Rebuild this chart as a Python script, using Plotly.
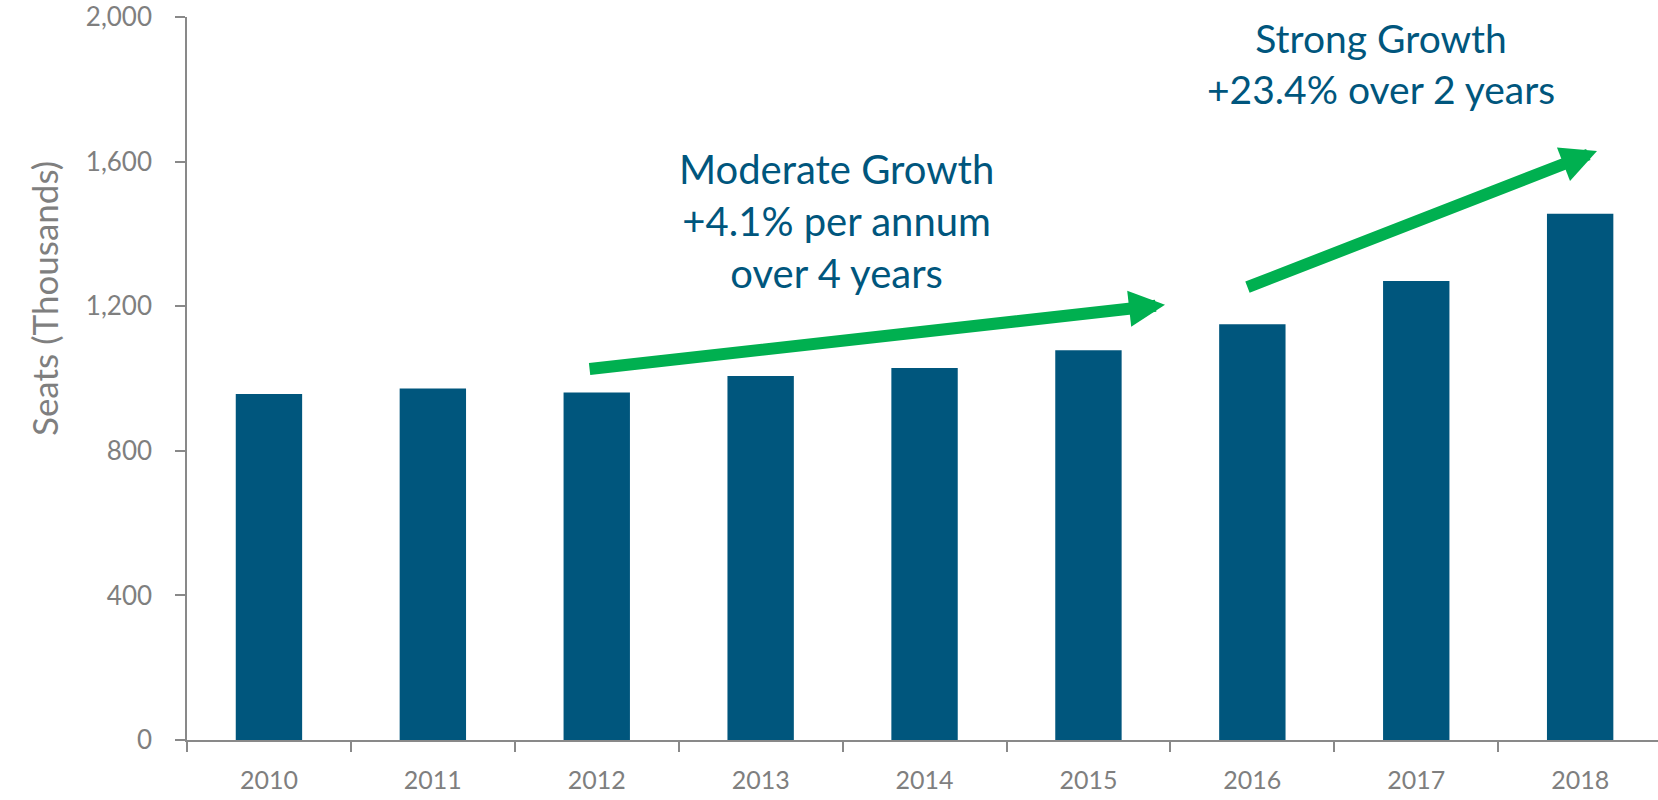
import plotly.graph_objects as go

years = ["2010", "2011", "2012", "2013", "2014", "2015", "2016", "2017", "2018"]
seats = [957, 972, 961, 1007, 1029, 1078, 1150, 1270, 1456]
y_ticks = [0, 400, 800, 1200, 1600, 2000]

BLUE = "#00567d"
GREEN = "#00b050"
GRAY = "#898989"
LABEL = "#7f7f7f"
FONT = "Lato"

fig = go.Figure()
fig.add_trace(go.Bar(x=years, y=seats, marker=dict(color=BLUE, line=dict(width=0)),
                     width=0.405, hoverinfo="x+y"))

# arrows (tip at x,y ; tail at ax,ay) in data coordinates (category index)
arrows = [
    dict(x=5.467, y=1204, ax=1.947, ay=1026),
    dict(x=8.103, y=1629, ax=5.961, ay=1251),
]
for a in arrows:
    fig.add_annotation(x=a["x"], y=a["y"], ax=a["ax"], ay=a["ay"],
                       xref="x", yref="y", axref="x", ayref="y",
                       showarrow=True, arrowhead=2, arrowsize=0.6, arrowwidth=12,
                       arrowcolor=GREEN, standoff=0, text="")

fig.add_annotation(x=3.46, y=1436, xref="x", yref="y", showarrow=False,
                   text="Moderate Growth<br>+4.1% per annum<br>over 4 years",
                   font=dict(family=FONT, size=40, color=BLUE), align="center")
fig.add_annotation(x=6.785, y=1872, xref="x", yref="y", showarrow=False,
                   text="Strong Growth<br>+23.4% over 2 years",
                   font=dict(family=FONT, size=39, color=BLUE), align="center")

fig.add_annotation(x=21, y=800 - 299, xref="paper", yref="paper", showarrow=False,
                   text="Seats (Thousands)", textangle=-90,
                   font=dict(family=FONT, size=35, color=LABEL))

fig.update_layout(
    width=1658, height=800,
    margin=dict(l=187, r=0, t=17, b=60),
    plot_bgcolor="white", paper_bgcolor="white",
    showlegend=False,
    font=dict(family=FONT, color=LABEL),
    xaxis=dict(type="category", range=[-0.5, 8.475], tickson="boundaries",
               ticks="outside", ticklen=10, tickcolor=GRAY, tickwidth=1.5,
               showline=True, linecolor=GRAY, linewidth=1.5, showgrid=False,
               tickfont=dict(family=FONT, size=25, color=LABEL),
               ticklabelstandoff=17, zeroline=False),
    yaxis=dict(range=[0, 2000], tickvals=y_ticks, tickformat=",",
               ticks="outside", ticklen=10, tickcolor=GRAY, tickwidth=1.5,
               showline=True, linecolor=GRAY, linewidth=1.5, showgrid=False,
               zeroline=False, tickfont=dict(family=FONT, size=26, color=LABEL),
               ticklabelstandoff=18),
)

# annotations in paper pixel coordinates -> convert to fraction
for ann in fig.layout.annotations:
    if ann.xref == "paper" and ann.x > 1:
        ann.x = (ann.x - 187) / (1658 - 187)
        ann.y = (ann.y - 60) / (800 - 17 - 60)

fig.write_html("out.html")
